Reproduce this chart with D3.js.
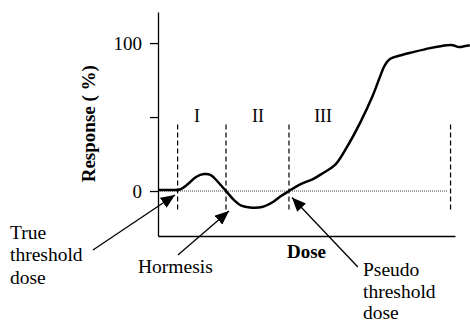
<!DOCTYPE html>
<html>
<head>
<meta charset="utf-8">
<script src="https://cdn.jsdelivr.net/npm/d3@7"></script>
<style>
  html, body { margin: 0; padding: 0; background: #fff; }
  svg { display: block; font-family: "Liberation Serif", "Times New Roman", serif; }
</style>
</head>
<body>
<svg id="chart" width="470" height="325"></svg>
<script>
// Dose–response curve (dose in arbitrary units, response in %)
const doses = [0, 4, 7.4, 10.1, 12.8, 15.5, 17.8, 20.2, 22.9, 25.6, 28.3, 31, 35, 38.7, 41.4, 44.1,
  46.5, 48.8, 52.2, 55.6, 59.6, 63.6, 68, 72.1, 74.7, 76.4, 78.1, 81.5, 85.9, 91.6, 97.3, 99.3, 101.3, 103.4, 105];
const responses = [0.7, 0.7, 1, 4.7, 9.5, 11.5, 10.8, 6.1, 0, -6.1, -10.1, -11.1, -10.8, -7.4, -3.4, 0,
  3, 5.4, 8.1, 12.2, 17.6, 29.7, 45.9, 63.5, 77, 85.1, 89.2, 91.6, 93.9, 96.6, 98.6, 98.6, 97.3, 98, 98.6];

// Region boundaries and their labels
const dividers = [6.6, 22.9, 44.1, 98.5];
const dividerSpan = [-14, 45];
const regionNames = ["I", "II", "III"];
const regionCenters = [13.1, 33.7, 55.6];
const regionLabelLevel = 46.6;

// Y axis ticks
const yTicks = [0, 50, 100];
const yTickLabels = ["0", "", "100"];

// Callouts: text lines, arrow tail and tip (dose, response)
const calloutTexts = [["True", "threshold", "dose"], ["Hormesis"], ["Pseudo", "threshold", "dose"]];
const calloutTails = [[-21.9, -39.9], [6.7, -43.2], [67.3, -51.4]];
const calloutTips = [[5.7, -2.7], [23.9, -13.5], [45.1, -4.4]];

const svg = d3.select("#chart");

const x = d3.scaleLinear().domain([0, 100]).range([158, 455]);
const y = d3.scaleLinear().domain([-30.4, 121]).range([236, 12]);

const defs = svg.append("defs");
defs.append("marker")
  .attr("id", "head")
  .attr("viewBox", "0 0 14 12")
  .attr("refX", 14).attr("refY", 6)
  .attr("markerWidth", 14).attr("markerHeight", 12)
  .attr("markerUnits", "userSpaceOnUse")
  .attr("orient", "auto")
  .append("path").attr("d", "M0,0 L14,6 L0,12 Z").attr("fill", "#000");

// Zero reference (dotted)
svg.append("line")
  .attr("x1", x(0)).attr("x2", x(97.5))
  .attr("y1", y(0)).attr("y2", y(0))
  .attr("stroke", "#444").attr("stroke-width", 1)
  .attr("stroke-dasharray", "1,1");

// Dashed region dividers
svg.selectAll("line.divider").data(dividers).join("line")
  .attr("class", "divider")
  .attr("x1", d => x(d)).attr("x2", d => x(d))
  .attr("y1", y(dividerSpan[1])).attr("y2", y(dividerSpan[0]))
  .attr("stroke", "#000").attr("stroke-width", 1.2)
  .attr("stroke-dasharray", "5,3");

// Region labels
svg.selectAll("text.region").data(regionNames).join("text")
  .attr("class", "region")
  .attr("x", (d, i) => x(regionCenters[i]))
  .attr("y", y(regionLabelLevel))
  .attr("text-anchor", "middle")
  .attr("font-size", 18)
  .text(d => d);

// Axes
const yAxis = svg.append("g")
  .attr("transform", `translate(${x(0)},0)`)
  .call(d3.axisLeft(y).tickValues(yTicks).tickSize(8).tickSizeOuter(0).tickPadding(8)
    .tickFormat((d, i) => yTickLabels[i]));
yAxis.selectAll("path, line").attr("stroke", "#000").attr("stroke-width", 1.3);
yAxis.selectAll("text").attr("font-size", 19).attr("font-family", "Liberation Serif").attr("fill", "#000");

const xAxis = svg.append("g")
  .attr("transform", `translate(0,${y.range()[0]})`)
  .call(d3.axisBottom(x).tickValues([]).tickSizeOuter(0));
xAxis.selectAll("path").attr("stroke", "#000").attr("stroke-width", 1.3);

// Axis titles
svg.append("text")
  .attr("x", x(50)).attr("y", 258)
  .attr("text-anchor", "middle")
  .attr("font-size", 19).attr("font-weight", "bold")
  .text("Dose");

svg.append("text")
  .attr("transform", `translate(95,${y(45.5)}) rotate(-90)`)
  .attr("text-anchor", "middle")
  .attr("font-size", 19).attr("font-weight", "bold")
  .text("Response ( %)");

// Response curve
const pts = doses.map((d, i) => [d, responses[i]]);
svg.append("path")
  .datum(pts)
  .attr("fill", "none")
  .attr("stroke", "#000")
  .attr("stroke-width", 2.5)
  .attr("stroke-linejoin", "round")
  .attr("d", d3.line().x(d => x(d[0])).y(d => y(d[1])).curve(d3.curveCatmullRom.alpha(0.5)));

// Callout arrows
svg.selectAll("line.callout").data(calloutTails).join("line")
  .attr("class", "callout")
  .attr("x1", d => x(d[0])).attr("y1", d => y(d[1]))
  .attr("x2", (d, i) => x(calloutTips[i][0])).attr("y2", (d, i) => y(calloutTips[i][1]))
  .attr("stroke", "#000").attr("stroke-width", 1.3)
  .attr("marker-end", "url(#head)");

// Callout texts
const calloutPos = [[10, 239], [138, 273], [363, 276]];
const lineStep = [22.3, 22.3, 21.5];
calloutTexts.forEach((lines, i) => {
  const t = svg.append("text")
    .attr("x", calloutPos[i][0]).attr("y", calloutPos[i][1])
    .attr("font-size", 19.5);
  lines.forEach((ln, j) => {
    t.append("tspan").attr("x", calloutPos[i][0]).attr("dy", j === 0 ? 0 : lineStep[i]).text(ln);
  });
});
</script>
</body>
</html>
